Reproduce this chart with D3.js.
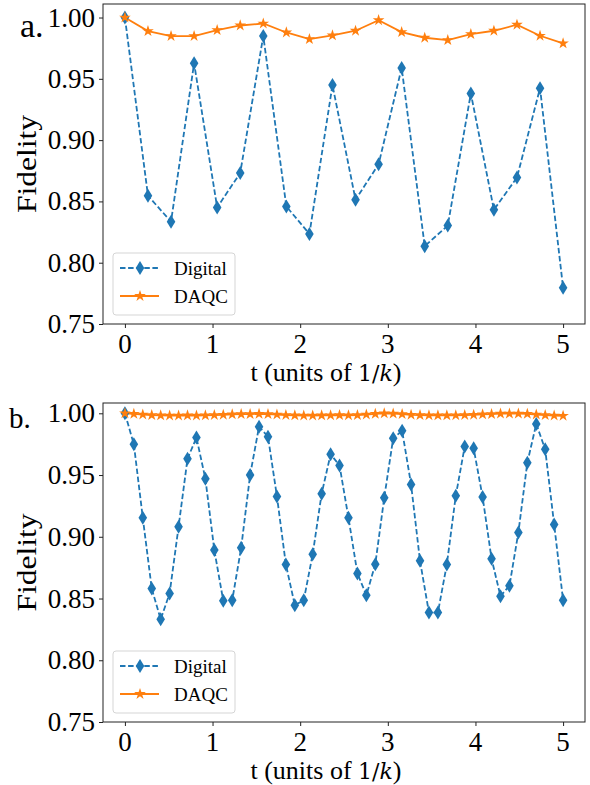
<!DOCTYPE html>
<html>
<head>
<meta charset="utf-8">
<script src="https://cdn.jsdelivr.net/npm/d3@7"></script>
<style>
html,body{margin:0;padding:0;background:#fff;}
</style>
</head>
<body>
<svg id="chart" width="590" height="785" font-family="Liberation Serif, Times New Roman, serif"></svg>
<script>
// ---- data ----
const yTicks = [0.75, 0.80, 0.85, 0.90, 0.95, 1.00];
const xTicks = [0, 1, 2, 3, 4, 5];
const seriesNames = ["Digital", "DAQC"];
const panelLabels = ["a.", "b."];

// panel a: 20 time steps over t in [0,5]
const digitalA = [1.000, 0.8546, 0.8335, 0.9627, 0.8451, 0.8732, 0.9849, 0.8459, 0.8235, 0.9449,
                  0.8514, 0.8803, 0.9589, 0.8135, 0.8303, 0.9381, 0.8432, 0.8695, 0.9424, 0.7795];
const daqcA    = [1.000, 0.9889, 0.9849, 0.9849, 0.9897, 0.9935, 0.9951, 0.9878, 0.9824, 0.9854,
                  0.9892, 0.9978, 0.9881, 0.9835, 0.9816, 0.9865, 0.9892, 0.9941, 0.9851, 0.9789];

// panel b: 50 time steps over t in [0,5]
const digitalB = [1.000, 0.9749, 0.9154, 0.8581, 0.8332, 0.8541, 0.9081, 0.9632, 0.9803, 0.9470,
                  0.8892, 0.8481, 0.8486, 0.8911, 0.9500, 0.9892, 0.9811, 0.9327, 0.8776, 0.8446,
                  0.8486, 0.8859, 0.9349, 0.9668, 0.9578, 0.9154, 0.8703, 0.8527, 0.8778, 0.9316,
                  0.9797, 0.9859, 0.9424, 0.8805, 0.8386, 0.8386, 0.8776, 0.9332, 0.9732, 0.9716,
                  0.9322, 0.8822, 0.8519, 0.8603, 0.9035, 0.9600, 0.9914, 0.9708, 0.9100, 0.8486];
const daqcB    = [1.000, 0.9995, 0.9990, 0.9985, 0.9983, 0.9982, 0.9982, 0.9983, 0.9982, 0.9983,
                  0.9986, 0.9988, 0.9991, 0.9993, 0.9994, 0.9995, 0.9993, 0.9990, 0.9986, 0.9983,
                  0.9982, 0.9982, 0.9983, 0.9984, 0.9985, 0.9984, 0.9985, 0.9990, 0.9996, 0.9999,
                  0.9997, 0.9993, 0.9988, 0.9985, 0.9984, 0.9983, 0.9983, 0.9984, 0.9986, 0.9988,
                  0.9991, 0.9994, 0.9997, 0.9998, 0.9998, 0.9996, 0.9990, 0.9985, 0.9982, 0.9980];

const tMax = 5;
const colors = ["#1f77b4", "#ff7f0e"];
const SERIF = "Liberation Serif, Times New Roman, serif";
const MATH = "DejaVu Serif, serif";

// ---- drawing ----
const svg = d3.select("#chart");
const panels = [
  {digital: digitalA, daqc: daqcA, label: panelLabels[0], top: 4, bottom: 324, labelX: 20, labelY: 37, labelSize: 34},
  {digital: digitalB, daqc: daqcB, label: panelLabels[1], top: 403, bottom: 722, labelX: 9, labelY: 428, labelSize: 29}
];
const left = 103, right = 585;

const diamond = "M0,-7L4.3,0L0,7L-4.3,0Z";
const star = d3.symbol().type(d3.symbolStar).size(42);
const fmtY = d3.format(".2f");

panels.forEach(p => {
  const g = svg.append("g");
  const n = p.digital.length;
  const times = p.digital.map((_, i) => i * tMax / (n - 1));
  const yMax = 1.0 + 0.05 * (1.0 - d3.min(p.digital));
  const x = d3.scaleLinear().domain([-0.25, 5.25]).range([left, right]);
  const y = d3.scaleLinear().domain([0.75, yMax]).range([p.bottom, p.top]);

  // axes (tick marks from d3 axes, labels as plain serif text)
  const xa = g.append("g").attr("transform", `translate(0,${p.bottom})`)
    .call(d3.axisBottom(x).tickValues(xTicks).tickFormat("").tickSize(4));
  xa.select(".domain").remove();
  xa.selectAll("line").attr("stroke", "#222");
  g.selectAll(".xtl").data(xTicks).enter().append("text")
    .attr("x", d => x(d)).attr("y", p.bottom + 29).attr("text-anchor", "middle")
    .attr("font-family", SERIF).attr("font-size", 27).attr("fill", "#000").text(d => d);

  const ya = g.append("g").attr("transform", `translate(${left},0)`)
    .call(d3.axisLeft(y).tickValues(yTicks).tickFormat("").tickSize(4));
  ya.select(".domain").remove();
  ya.selectAll("line").attr("stroke", "#222");
  g.selectAll(".ytl").data(yTicks).enter().append("text")
    .attr("x", left - 8).attr("y", d => y(d) + 9).attr("text-anchor", "end")
    .attr("font-family", SERIF).attr("font-size", 27).attr("fill", "#000").text(d => fmtY(d));

  // lines
  const lineGen = d3.line().x((d, i) => x(times[i])).y(d => y(d));
  g.append("path").datum(p.digital).attr("d", lineGen)
    .attr("fill", "none").attr("stroke", colors[0]).attr("stroke-width", 1.8)
    .attr("stroke-dasharray", "5.5,2.6");
  g.append("path").datum(p.daqc).attr("d", lineGen)
    .attr("fill", "none").attr("stroke", colors[1]).attr("stroke-width", 1.8);

  g.selectAll(".dm").data(p.digital).enter().append("path")
    .attr("d", diamond).attr("fill", colors[0])
    .attr("transform", (d, i) => `translate(${x(times[i])},${y(d)})`);
  g.selectAll(".st").data(p.daqc).enter().append("path")
    .attr("d", star).attr("fill", colors[1])
    .attr("transform", (d, i) => `translate(${x(times[i])},${y(d)})`);

  // frame
  g.append("rect").attr("x", left).attr("y", p.top).attr("width", right - left).attr("height", p.bottom - p.top)
    .attr("fill", "none").attr("stroke", "#222").attr("stroke-width", 1);

  // legend
  const lg = g.append("g").attr("transform", `translate(113,${p.bottom - 71})`);
  lg.append("rect").attr("width", 122).attr("height", 62).attr("rx", 3)
    .attr("fill", "rgba(255,255,255,0.8)").attr("stroke", "#d5d5d5");
  [0, 1].forEach(k => {
    const yy = 15 + k * 28;
    lg.append("line").attr("x1", 7).attr("x2", 46).attr("y1", yy).attr("y2", yy)
      .attr("stroke", colors[k]).attr("stroke-width", 1.8)
      .attr("stroke-dasharray", k === 0 ? "5.5,2.6" : null);
    lg.append("path").attr("d", k === 0 ? diamond : star).attr("fill", colors[k])
      .attr("transform", `translate(27,${yy})`);
    lg.append("text").attr("x", 61).attr("y", yy + 7)
      .attr("font-family", SERIF).attr("font-size", 19).attr("fill", "#000").text(seriesNames[k]);
  });

  // axis labels
  g.append("text").attr("transform", `translate(36,${(p.top + p.bottom) / 2}) rotate(-90)`)
    .attr("text-anchor", "middle").attr("font-family", SERIF).attr("font-size", 28)
    .attr("textLength", 98).attr("lengthAdjust", "spacingAndGlyphs")
    .attr("fill", "#000").text("Fidelity");
  const xl = g.append("text").attr("x", 326).attr("y", p.bottom + 57).attr("text-anchor", "middle")
    .attr("font-family", SERIF).attr("font-size", 26).attr("fill", "#000");
  xl.append("tspan").text("t (units of ");
  xl.append("tspan").attr("font-family", MATH).attr("font-size", 22).text("1/");
  xl.append("tspan").attr("font-family", MATH).attr("font-style", "italic").attr("font-size", 22).text("k");
  xl.append("tspan").text(")");

  // panel label
  g.append("text").attr("x", p.labelX).attr("y", p.labelY)
    .attr("font-family", SERIF).attr("font-size", p.labelSize).attr("fill", "#000").text(p.label);
});
</script>
</body>
</html>
